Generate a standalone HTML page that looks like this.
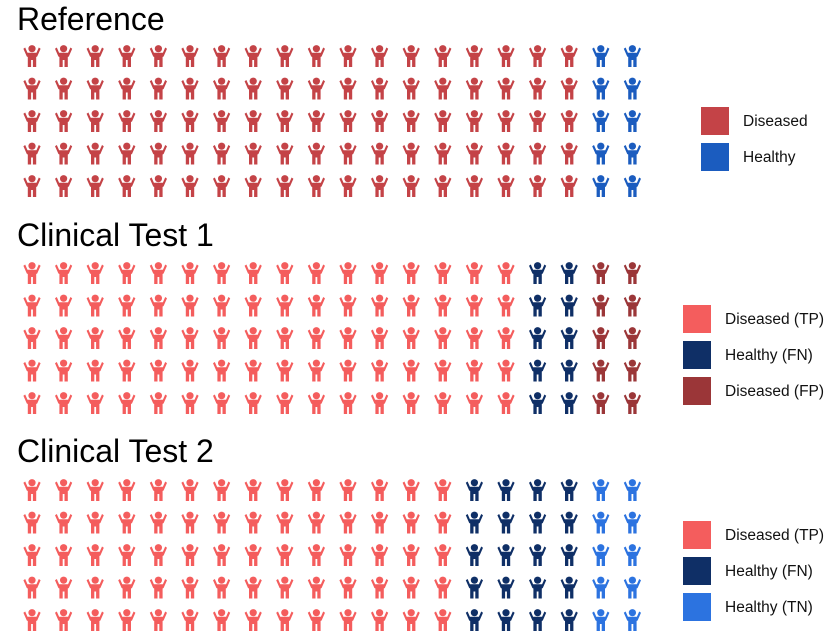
<!DOCTYPE html>
<html><head><meta charset="utf-8"><style>
body{margin:0;background:#fff;font-family:"Liberation Sans",sans-serif;}
svg{display:block}
</style></head><body>
<svg id="chart" width="836" height="641" viewBox="0 0 836 641">
<defs>
<symbol id="kid" viewBox="-8 -11 16 22" overflow="visible">
<circle cx="0" cy="-7.3" r="3.6"/>
<path d="M-4.5,-3.2 L4.5,-3.2 L6.8,-8.5 L8.6,-7.2 L5.2,0.5 L4.2,1 L4.2,11 L0.9,11 L0.9,4 L-0.9,4 L-0.9,11 L-4.2,11 L-4.2,1 L-5.2,0.5 L-8.6,-7.2 L-6.8,-8.5 Z"/>
</symbol>
</defs>
<g id="panels"></g>
</svg>
<script>
const panelTitles = ["Reference", "Clinical Test 1", "Clinical Test 2"];
const refCounts = [90, 10];
const refLabels = ["Diseased", "Healthy"];
const refColors = ["#c44347", "#1b5cbf"];
const test1Counts = [80, 10, 10];
const test1Labels = ["Diseased (TP)", "Healthy (FN)", "Diseased (FP)"];
const test1Colors = ["#f45d5d", "#0f2f66", "#9b3638"];
const test2Counts = [70, 20, 10];
const test2Labels = ["Diseased (TP)", "Healthy (FN)", "Healthy (TN)"];
const test2Colors = ["#f45d5d", "#0f2f66", "#2c73e0"];

const NS = "http://www.w3.org/2000/svg";
const g = document.getElementById("panels");
const nRows = 5, colX0 = 32, colStep = 31.6, rowStep = 32.5;
const panels = [
  {counts: refCounts, labels: refLabels, colors: refColors, titleY: 30, rowY0: 56, legX: 701, legY0: 107, legStep: 36},
  {counts: test1Counts, labels: test1Labels, colors: test1Colors, titleY: 246, rowY0: 273, legX: 683, legY0: 305, legStep: 36},
  {counts: test2Counts, labels: test2Labels, colors: test2Colors, titleY: 462, rowY0: 490, legX: 683, legY0: 521, legStep: 36}
];
function xCol(c){return colX0 + c*colStep;}
panels.forEach((p, pi) => {
  const pg = document.createElementNS(NS, "g");
  
  
  g.appendChild(pg);
  const t = document.createElementNS(NS, "text");
  t.setAttribute("x", 17); t.setAttribute("y", p.titleY);
  t.setAttribute("font-size", "32"); t.setAttribute("fill", "#000");
  t.textContent = panelTitles[pi];
  
  
  pg.appendChild(t);
  let idx = 0;
  p.counts.forEach((cnt, si) => {
    for (let k = 0; k < cnt; k++, idx++) {
      const col = Math.floor(idx / nRows), row = idx % nRows;
      const u = document.createElementNS(NS, "use");
      u.setAttribute("href", "#kid");
      u.setAttribute("x", xCol(col) - 8);
      u.setAttribute("y", p.rowY0 + row*rowStep - 11);
      u.setAttribute("width", 16); u.setAttribute("height", 22);
      u.setAttribute("fill", p.colors[si]);
      
      
      pg.appendChild(u);
    }
    const r = document.createElementNS(NS, "rect");
    r.setAttribute("x", p.legX); r.setAttribute("y", p.legY0 + si*p.legStep);
    r.setAttribute("width", 28); r.setAttribute("height", 28);
    r.setAttribute("fill", p.colors[si]);
    
    
    pg.appendChild(r);
    const lt = document.createElementNS(NS, "text");
    lt.setAttribute("x", p.legX + 42); lt.setAttribute("y", p.legY0 + si*p.legStep + 19);
    lt.setAttribute("font-size", "15.5"); lt.setAttribute("fill", "#111");
    lt.textContent = p.labels[si];
    
    
    pg.appendChild(lt);
  });
});
</script>
</body></html>
